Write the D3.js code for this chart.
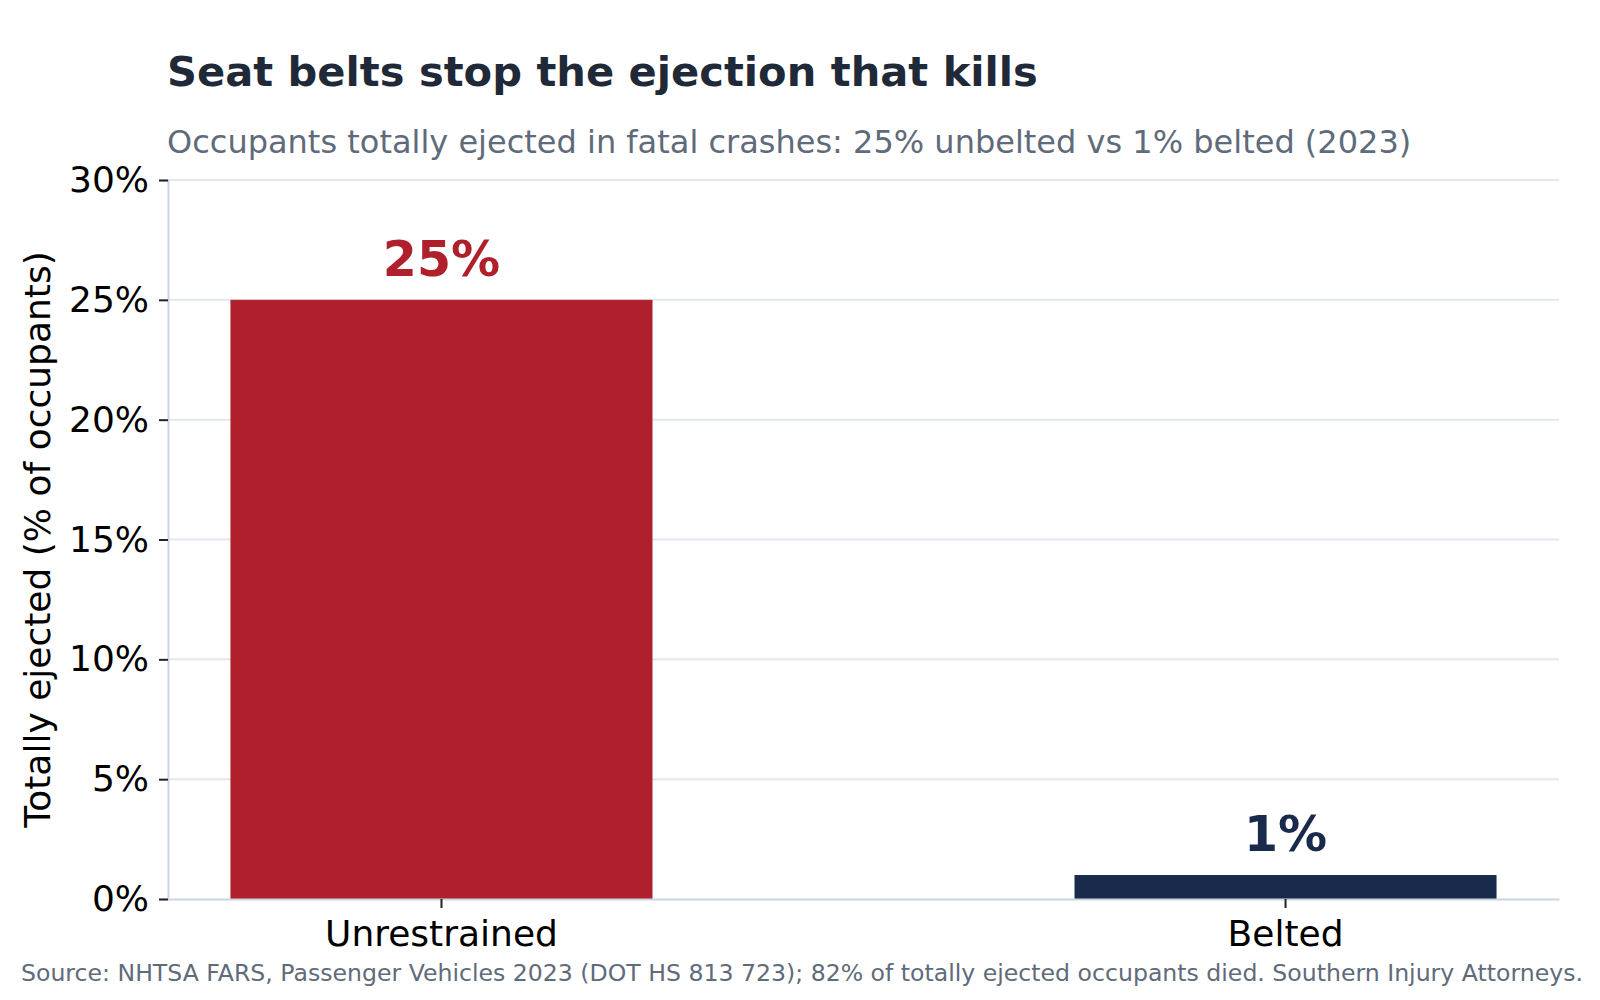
<!DOCTYPE html>
<html>
<head>
<meta charset="utf-8">
<script src="https://cdn.jsdelivr.net/npm/d3@7"></script>
<style>
  body { margin: 0; background: #fff; }
  text { font-family: "DejaVu Sans", sans-serif; }
</style>
</head>
<body>
<div id="chart"></div>
<script>
const categories = ["Unrestrained", "Belted"]
const values = [25, 1]
const valueLabels = ["25%", "1%"]
const barColors = ["#b01f2c", "#1a2a4d"]
const yTicks = [0, 5, 10, 15, 20, 25, 30]

const titleText = "Seat belts stop the ejection that kills"
const subtitleText = "Occupants totally ejected in fatal crashes: 25% unbelted vs 1% belted (2023)"
const yLabelText = "Totally ejected (% of occupants)"
const sourceText = "Source: NHTSA FARS, Passenger Vehicles 2023 (DOT HS 813 723); 82% of totally ejected occupants died. Southern Injury Attorneys."

function createCanvas(){
    return { width: 1600, height: 1000, margin: {top: 180, right: 41, bottom: 101, left: 168} }
}

function addSvg(id, canvas){
    return d3.select(id).append("svg")
      .attr("width", canvas.width).attr("height", canvas.height)
      .attr("viewBox", `0 0 ${canvas.width} ${canvas.height}`)
}

function addScales(canvas){
    const xScale = d3.scaleBand().domain(categories)
      .range([canvas.margin.left, canvas.width - canvas.margin.right])
      .paddingInner(0.5).paddingOuter(0.074)

    const yScale = d3.scaleLinear().domain([0, 30])
      .range([canvas.height - canvas.margin.bottom, canvas.margin.top])

    return {xScale, yScale}
}

function addGrid(svg, sc, canvas){
    svg.append("g").selectAll("line").data(yTicks.filter(d => d > 0)).enter()
      .append("line")
      .attr("x1", canvas.margin.left).attr("x2", canvas.width - canvas.margin.right)
      .attr("y1", d => sc.yScale(d)).attr("y2", d => sc.yScale(d))
      .attr("stroke", "#e2e8f0").attr("stroke-width", 2)
}

function addBars(svg, sc){
    const rows = categories.map((c, i) => ({cat: c, value: values[i], label: valueLabels[i], color: barColors[i]}))

    svg.append("g").selectAll("rect").data(rows).enter()
      .append("rect")
      .attr("x", d => sc.xScale(d.cat)).attr("width", sc.xScale.bandwidth())
      .attr("y", d => sc.yScale(d.value))
      .attr("height", d => sc.yScale(0) - sc.yScale(d.value))
      .attr("fill", d => d.color)

    svg.append("g").selectAll("text").data(rows).enter()
      .append("text")
      .attr("x", d => sc.xScale(d.cat) + sc.xScale.bandwidth() / 2)
      .attr("y", d => sc.yScale(d.value) - 24)
      .attr("text-anchor", "middle").attr("font-size", "49px").attr("font-weight", "bold")
      .attr("fill", d => d.color)
      .text(d => d.label)
}

function addAxes(svg, sc, canvas){
    const yAxis = svg.append("g").attr("transform", `translate(${canvas.margin.left},0)`)
      .call(d3.axisLeft(sc.yScale).tickValues(yTicks).tickFormat(d => d + "%").tickSize(9).tickPadding(10))
    yAxis.select(".domain").attr("stroke", "#cbd5e1").attr("stroke-width", 2)
    yAxis.selectAll(".tick line").attr("stroke", "#222").attr("stroke-width", 2)
    yAxis.selectAll(".tick text").attr("font-size", "36px").attr("fill", "#000")
      .attr("font-family", "DejaVu Sans, sans-serif")

    const xAxis = svg.append("g").attr("transform", `translate(0,${sc.yScale(0)})`)
      .call(d3.axisBottom(sc.xScale).tickSize(9).tickPadding(12).tickSizeOuter(0))
    xAxis.select(".domain").attr("stroke", "#cbd5e1").attr("stroke-width", 2)
    xAxis.selectAll(".tick line").attr("stroke", "#222").attr("stroke-width", 2)
    xAxis.selectAll(".tick text").attr("font-size", "36px").attr("fill", "#000")
      .attr("font-family", "DejaVu Sans, sans-serif")
}

function addLabels(svg, canvas){
    svg.append("text").attr("x", 167).attr("y", 86)
      .attr("font-size", "41.6px").attr("font-weight", "bold").attr("fill", "#1f2937")
      .text(titleText)

    svg.append("text").attr("x", 167).attr("y", 153)
      .attr("font-size", "32px").attr("fill", "#5f6b7a")
      .text(subtitleText)

    const plotMid = (canvas.margin.top + canvas.height - canvas.margin.bottom) / 2
    svg.append("text")
      .attr("transform", `translate(50,${plotMid}) rotate(-90)`)
      .attr("text-anchor", "middle").attr("font-size", "36px").attr("fill", "#000")
      .text(yLabelText)

    svg.append("text").attr("x", 21).attr("y", 981)
      .attr("font-size", "23.6px").attr("fill", "#5f6b7a")
      .text(sourceText)
}

const canvas = createCanvas()
const svg = addSvg("#chart", canvas)
const sc = addScales(canvas)
addGrid(svg, sc, canvas)
addBars(svg, sc)
addAxes(svg, sc, canvas)
addLabels(svg, canvas)
</script>
</body>
</html>
